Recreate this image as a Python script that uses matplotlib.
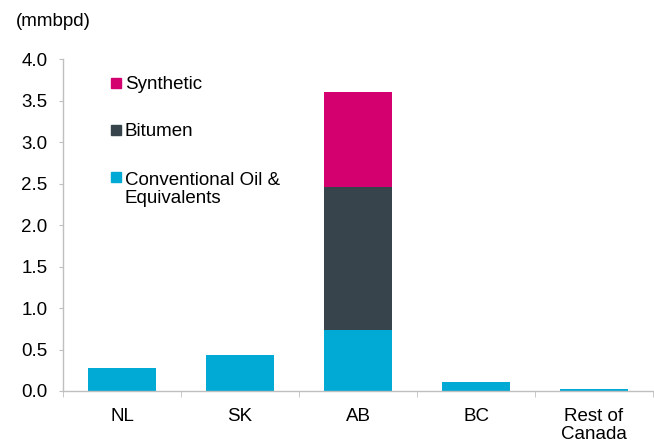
import matplotlib.pyplot as plt
import numpy as np

plt.rcParams['font.family'] = ['Liberation Sans', 'DejaVu Sans']

regions = ['NL', 'SK', 'AB', 'BC', 'Rest of\nCanada']
conventional = [0.28, 0.43, 0.74, 0.105, 0.03]
bitumen = [0, 0, 1.72, 0, 0]
synthetic = [0, 0, 1.15, 0, 0]

series_names = ['Synthetic', 'Bitumen', 'Conventional Oil &\nEquivalents']
colors = ['#D5006F', '#37444C', '#00AAD4']
fs = 13.5

fig = plt.figure(figsize=(6.54, 4.42), dpi=100)
ax = fig.add_axes([0.0963, 0.1154, 0.9022, 0.7504])

x = np.arange(len(regions))
w = 0.57
conv = np.array(conventional)
bit = np.array(bitumen)
syn = np.array(synthetic)
ax.bar(x, conv, w, color=colors[2])
ax.bar(x, bit, w, bottom=conv, color=colors[1])
ax.bar(x, syn, w, bottom=conv + bit, color=colors[0])

ax.set_xlim(-0.5, 4.5)
ax.set_ylim(0, 4)
ax.set_yticks(np.arange(0, 4.01, 0.5))
ax.set_yticklabels(['%.1f' % v for v in np.arange(0, 4.01, 0.5)])
ax.set_xticks(x)
ax.set_xticklabels(regions, va='top', linespacing=1.13)
ax.set_xticks(np.arange(-0.5, 4.6, 1), minor=True)

for s in ['top', 'right']:
    ax.spines[s].set_visible(False)
for s in ['left', 'bottom']:
    ax.spines[s].set_color('#BFBFBF')
    ax.spines[s].set_linewidth(1)

ax.tick_params(axis='y', length=3, color='#BFBFBF', pad=8, labelsize=fs, labelcolor='#000000')
ax.tick_params(axis='x', which='major', length=0, pad=12, labelsize=fs)
ax.tick_params(axis='x', which='minor', length=4.5, color='#BFBFBF')

fig.text(0.024, 0.951, '(mmbpd)', fontsize=fs, va='center', ha='left')

# legend drawn by hand so marker aligns with first text line
base_y = [0.9096, 0.7688, 0.627]
step = 20 / 331.7
for name, c, yy in zip(series_names, colors, base_y):
    nlines = name.count('\n') + 1
    ax.plot([0.0898], [yy + 0.018], marker='s', markersize=7.2, color=c,
            transform=ax.transAxes, clip_on=False, linestyle='none')
    ax.text(0.105, yy - (nlines - 1) * step, name, transform=ax.transAxes,
            fontsize=fs, va='baseline', ha='left', linespacing=1.08)

fig.savefig('out.png', dpi=100)
